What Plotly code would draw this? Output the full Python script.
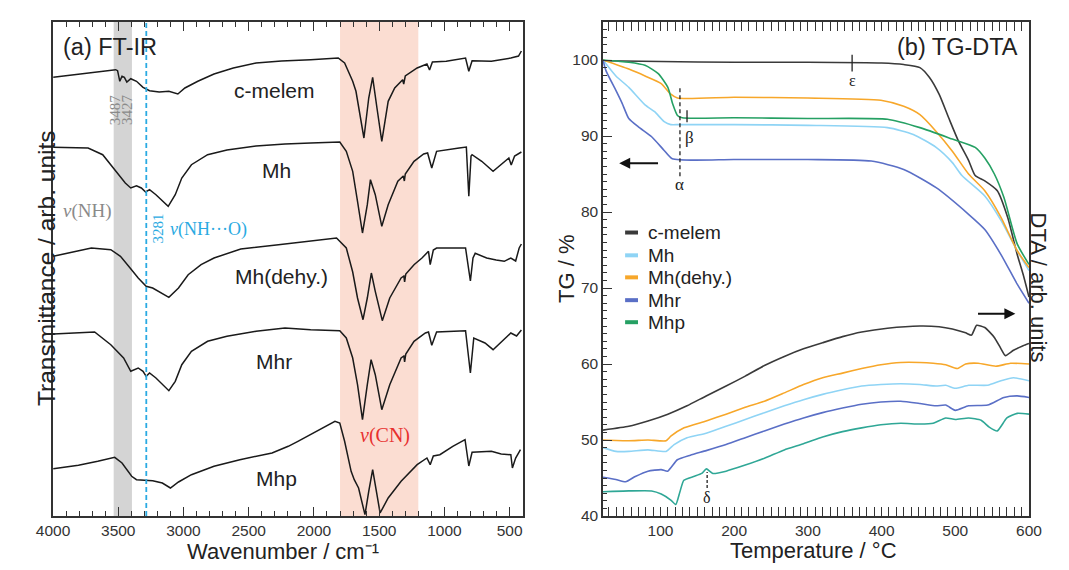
import plotly.graph_objects as go

# ---------------- FT-IR data (wavenumber / cm-1, transmittance arb. units) ----------------
wn_cmelem = [3998, 3520, 3505, 3488, 3471, 3453, 3434, 3404, 3360, 3310, 3260, 3186, 3112, 3043, 2989, 2890, 2766, 2618, 2444, 2249, 2025, 1814, 1765, 1703, 1678, 1617, 1580, 1550, 1517, 1480, 1431, 1381, 1320, 1312, 1300, 1209, 1134, 1114, 1092, 986, 838, 813, 788, 640, 491, 432, 410]
tr_cmelem = [438.7, 446.3, 445.3, 434.7, 439.7, 438.7, 434, 437.3, 434.7, 428.7, 425.3, 424, 424.7, 422, 428, 434.7, 442, 448, 453, 455, 456.3, 458, 453, 434.7, 424.7, 378, 418, 438.7, 408, 374.7, 414.7, 428, 436.3, 432, 440, 448, 452, 446, 454, 454.7, 458, 444.7, 455.3, 454.7, 458, 460, 465]

wn_mh = [3998, 3731, 3619, 3520, 3446, 3404, 3360, 3323, 3290, 3260, 3211, 3117, 3063, 3013, 2939, 2815, 2667, 2444, 2222, 2025, 1802, 1752, 1703, 1666, 1628, 1591, 1567, 1530, 1480, 1431, 1357, 1315, 1307, 1300, 1233, 1159, 1129, 1097, 1060, 887, 832, 813, 796, 788, 714, 627, 541, 506, 488, 462, 410]
tr_mh = [368.7, 368, 361.3, 344.7, 333, 328, 330.3, 328, 324, 326.3, 321.3, 309.7, 321.3, 338, 351.3, 361.3, 366, 370, 372, 373, 374, 364.7, 344.7, 314.7, 283, 311.3, 336.3, 321.3, 289.7, 311.3, 334.7, 340, 335, 342, 354.7, 362, 363, 348, 364.7, 368, 369, 319.7, 360, 361.3, 354.7, 344.7, 354.7, 358, 351, 360, 364]

wn_mhd = [3998, 3805, 3706, 3557, 3483, 3409, 3347, 3286, 3236, 3112, 3038, 2964, 2865, 2766, 2561, 2272, 2025, 1827, 1752, 1703, 1666, 1624, 1591, 1560, 1530, 1476, 1419, 1332, 1311, 1305, 1296, 1233, 1172, 1122, 1109, 1085, 1060, 838, 801, 781, 764, 676, 603, 541, 491, 454, 427, 410]
tr_mhd = [259.7, 264.7, 268, 266.3, 259.7, 248, 238, 229.7, 228, 218.7, 228, 241.3, 251.3, 258, 267, 271.3, 274.7, 278, 268, 244, 218, 196.3, 218, 243, 224.7, 195.3, 218, 238, 240, 234, 242, 251.3, 258, 264.7, 251.3, 266, 268, 268, 235, 258, 262.7, 258, 256, 254.7, 258, 255, 268, 272]

wn_mhr = [3998, 3681, 3557, 3459, 3404, 3347, 3310, 3286, 3260, 3211, 3112, 3063, 3013, 2939, 2815, 2667, 2444, 2222, 2025, 1802, 1752, 1703, 1666, 1628, 1591, 1562, 1530, 1480, 1419, 1332, 1311, 1305, 1296, 1233, 1146, 1122, 1097, 1060, 838, 801, 775, 689, 627, 541, 491, 447, 410]
tr_mhr = [182, 184, 171.3, 158, 144.7, 148, 144.7, 139.7, 143, 138, 125.3, 134.7, 151.3, 164.7, 174.7, 179.7, 184.7, 188, 186.3, 185.3, 178, 158, 131.3, 96.3, 131.3, 156.3, 141.3, 106.3, 131.3, 158, 160, 154, 162, 174.7, 183, 184, 170.7, 184, 185.3, 143, 178, 173, 166.3, 176.3, 183, 180, 186]

wn_mhp = [3998, 3805, 3657, 3527, 3471, 3421, 3397, 3360, 3236, 3162, 3100, 3038, 2939, 2766, 2568, 2321, 2197, 2123, 1975, 1839, 1802, 1765, 1715, 1691, 1658, 1609, 1580, 1550, 1517, 1493, 1431, 1332, 1209, 1134, 1109, 1085, 1035, 936, 842, 813, 788, 640, 565, 491, 479, 454, 417]
tr_mhp = [47.3, 50.7, 54.7, 58.7, 53, 44.7, 39.7, 36.3, 35.3, 33, 28, 34, 41.3, 49.7, 56.3, 63, 69.7, 74.7, 84.7, 94.7, 93, 74.7, 44.7, 36.3, 28, 1.3, 24.7, 46.3, 21.3, 3, 18, 34.7, 51.3, 58, 51.3, 60, 61.3, 69.7, 76.3, 50, 63.7, 64.7, 62, 61.3, 48, 58, 66.3]

ir_names = ["c-melem", "Mh", "Mh(dehy.)", "Mhr", "Mhp"]
ir_wn = [wn_cmelem, wn_mh, wn_mhd, wn_mhr, wn_mhp]
ir_tr = [tr_cmelem, tr_mh, tr_mhd, tr_mhr, tr_mhp]
ir_label_pos = [(2299, 426), (2290, 346), (2245, 240), (2310, 155), (2290, 38)]

# ---------------- TG data (temperature / degC, TG / %) ----------------
tg_T_cmelem = [22, 100, 200, 300, 400, 430, 452, 465, 478, 491, 504, 518, 527, 540, 557, 571, 584, 592, 600]
tg_cmelem = [99.9, 99.8, 99.7, 99.7, 99.6, 99.4, 99.0, 97.7, 95.5, 92.4, 89.4, 86.8, 84.8, 84.1, 82.8, 79.3, 74.4, 71.8, 68.8]
tg_T_mh = [22, 39.5, 57, 79, 92, 105, 114, 125, 200, 300, 408, 443, 474, 496, 509, 540, 562, 584, 600]
tg_mh = [100, 97.9, 96.4, 94.1, 93.2, 91.9, 91.5, 91.5, 91.5, 91.4, 91.1, 90.2, 88.5, 86.5, 84.8, 82.1, 78.9, 74.9, 72.3]
tg_T_mhd = [22, 57, 79, 101, 114, 123, 200, 300, 399, 430, 452, 474, 496, 518, 540, 562, 584, 600]
tg_mhd = [100, 98.8, 97.9, 96.9, 95.5, 95.0, 95.1, 95.0, 94.7, 93.9, 92.8, 90.6, 88.0, 85.0, 82.8, 79.3, 74.9, 72.7]
tg_T_mhr = [22, 26, 39.5, 48, 57, 70, 88, 105, 116, 200, 300, 386, 430, 474, 518, 540, 562, 584, 600]
tg_mhr = [100, 98.6, 96.0, 94.3, 92.3, 91.2, 89.9, 88.1, 87.0, 86.9, 86.9, 86.7, 85.6, 83.2, 79.7, 77.7, 74.4, 70.5, 68.0]
tg_T_mhp = [22, 57, 79, 97, 110, 116.6, 123, 129.5, 200, 300, 408, 452, 496, 527, 540, 553, 566, 584, 600]
tg_mhp = [100, 99.7, 99.3, 98.2, 96.4, 94.2, 92.7, 92.4, 92.4, 92.3, 92.2, 91.1, 89.6, 88.5, 87.1, 85.0, 81.9, 75.8, 73.1]

# ---------------- DTA data (temperature / degC, DTA arb. units) ----------------
dta_T_cmelem = [22, 57, 83, 110, 136, 162, 189, 215, 241, 268, 294, 320, 347, 373, 408, 452, 478, 496, 514, 522, 529, 540, 553, 562, 568, 579, 592, 600]
dta_cmelem = [51.3, 51.8, 52.5, 53.4, 54.5, 55.8, 57.1, 58.4, 59.8, 61.0, 62.0, 62.8, 63.6, 64.2, 64.7, 65.0, 64.9, 64.6, 64.1, 63.8, 65.1, 64.8, 63.5, 62.0, 61.1, 61.8, 62.4, 62.7]
dta_T_mhd = [22, 57, 83, 107.5, 114, 132, 162, 189, 215, 241, 268, 294, 320, 347, 373, 399, 426, 452, 470, 487, 502.5, 514, 531, 555, 575, 600]
dta_mhd = [50.0, 49.9, 50.0, 49.9, 50.5, 51.6, 52.5, 53.4, 54.3, 55.1, 56.2, 57.3, 58.2, 58.8, 59.4, 59.9, 60.2, 60.2, 60.1, 59.9, 59.4, 60.0, 60.1, 59.7, 60.1, 60.0]
dta_T_mh = [22, 39.5, 57, 83, 107.5, 118.5, 136, 162, 189, 215, 241, 268, 294, 320, 347, 373, 399, 426, 452, 474, 487, 500, 518, 544, 562, 579, 600]
dta_mh = [49.0, 48.5, 48.5, 48.7, 48.5, 49.4, 50.3, 50.9, 51.8, 52.7, 53.6, 54.5, 55.3, 56.0, 56.6, 57.1, 57.3, 57.4, 57.3, 57.1, 57.2, 56.8, 57.2, 57.2, 57.8, 58.2, 57.8]
dta_T_mhr = [22, 39.5, 52.7, 65.8, 83, 101, 109.7, 122.9, 140.5, 162, 189, 215, 241, 268, 294, 320, 347, 373, 399, 426, 452, 474, 487, 500, 518, 544, 566, 584, 600]
dta_mhr = [45.1, 44.8, 44.5, 45.2, 45.9, 46.1, 45.9, 47.4, 48.0, 48.6, 49.4, 50.3, 51.2, 52.1, 52.9, 53.6, 54.2, 54.7, 55.0, 55.1, 54.8, 54.5, 54.6, 53.9, 54.5, 54.6, 55.6, 55.8, 55.6]
dta_T_mhp = [22, 57, 88, 101, 114, 120.7, 126.4, 131.7, 145, 156, 162.3, 171, 189, 215, 241, 268, 294, 320, 347, 373, 399, 426, 452, 470, 487, 500, 518, 535, 546, 557, 570, 584, 600]
dta_mhp = [43.2, 43.3, 43.3, 42.9, 42.1, 41.5, 43.2, 44.7, 45.2, 45.6, 46.2, 45.6, 45.9, 46.7, 47.6, 48.7, 49.5, 50.4, 51.1, 51.6, 52.0, 52.2, 52.1, 52.2, 52.9, 52.7, 52.9, 52.6, 51.7, 51.2, 52.9, 53.5, 53.4]

tg_names = ["c-melem", "Mh", "Mh(dehy.)", "Mhr", "Mhp"]
tg_colors = ["#3a3a3a", "#8fd4f5", "#f7a72a", "#5a6fc6", "#25a063"]
dta_colors = ["#3a3a3a", "#8fd4f5", "#f7a72a", "#5a6fc6", "#2fa796"]
tg_T = [tg_T_cmelem, tg_T_mh, tg_T_mhd, tg_T_mhr, tg_T_mhp]
tg_v = [tg_cmelem, tg_mh, tg_mhd, tg_mhr, tg_mhp]
dta_T = [dta_T_cmelem, dta_T_mh, dta_T_mhd, dta_T_mhr, dta_T_mhp]
dta_v = [dta_cmelem, dta_mh, dta_mhd, dta_mhr, dta_mhp]

SANS = "Liberation Sans, Arial, sans-serif"
SERIF = "Liberation Serif, Times New Roman, serif"
AX = "#333333"

W, H = 1069, 570
ML, MR, MT, MB = 45, 48, 14, 62
PW = W - ML - MR
PH = H - MT - MB
def xp(px):
    return (px - ML) / PW
def yp(py):
    return (H - MB - py) / PH

fig = go.Figure()

for name, wn, tr in zip(ir_names, ir_wn, ir_tr):
    fig.add_trace(go.Scatter(x=wn, y=tr, mode="lines", name=name, showlegend=False,
                             line=dict(color="#1a1a1a", width=1.5), xaxis="x", yaxis="y"))

for name, T, v, c in zip(tg_names, tg_T, tg_v, tg_colors):
    fig.add_trace(go.Scatter(x=T, y=v, mode="lines", name=name, showlegend=False,
                             line=dict(color=c, width=1.6, shape="spline", smoothing=0.6),
                             xaxis="x2", yaxis="y2"))
for name, T, v, c in zip(tg_names, dta_T, dta_v, dta_colors):
    fig.add_trace(go.Scatter(x=T, y=v, mode="lines", name=name + " DTA", showlegend=False,
                             line=dict(color=c, width=1.6, shape="spline", smoothing=0.5),
                             xaxis="x2", yaxis="y3"))

shapes = []
shapes.append(dict(type="rect", xref="x", yref="y domain", x0=3535, x1=3395, y0=0, y1=1,
                   fillcolor="#d4d4d4", line=dict(width=0), layer="below"))
shapes.append(dict(type="rect", xref="x", yref="y domain", x0=1800, x1=1200, y0=0, y1=1,
                   fillcolor="#fbddd2", line=dict(width=0), layer="below"))
shapes.append(dict(type="line", xref="x", yref="y domain", x0=3285, x1=3285, y0=0, y1=1,
                   line=dict(color="#2aaae2", width=1.8, dash="5px,3px")))
shapes.append(dict(type="line", xref="x2", yref="y2", x0=360, x1=360, y0=98.5, y1=100.7,
                   line=dict(color="#222", width=1.3)))
shapes.append(dict(type="line", xref="x2", yref="y2", x0=126.4, x1=126.4, y0=84.7, y1=96.4,
                   line=dict(color="#222", width=1.3, dash="4px,3px")))
shapes.append(dict(type="line", xref="x2", yref="y2", x0=136, x1=136, y0=91.8, y1=93.4,
                   line=dict(color="#222", width=1.3)))
shapes.append(dict(type="line", xref="x2", yref="y2", x0=163.3, x1=163.3, y0=43.7, y1=45.8,
                   line=dict(color="#222", width=1.3, dash="3px,2px")))
legend_rows = [77.3, 74.3, 71.4, 68.4, 65.5]
for yv, c in zip(legend_rows, tg_colors):
    shapes.append(dict(type="line", xref="x2", yref="y2", x0=52, x1=69.5, y0=yv, y1=yv,
                       line=dict(color=c, width=4)))

ann = []
def A(**k):
    ann.append(k)

A(text="(a) FT-IR", x=3939, y=469, xref="x", yref="y", xanchor="left", yanchor="middle",
  showarrow=False, font=dict(family=SANS, size=23.5, color="#222"))
for name, (px_, py_) in zip(ir_names, ir_label_pos):
    A(text=name, x=px_, y=py_, xref="x", yref="y", showarrow=False,
      font=dict(family=SANS, size=21, color="#222"))
A(text="3487", x=3523, y=406, xref="x", yref="y", textangle=-90, showarrow=False,
  font=dict(family=SERIF, size=15, color="#8a8a8a"))
A(text="3427", x=3432, y=406, xref="x", yref="y", textangle=-90, showarrow=False,
  font=dict(family=SERIF, size=15, color="#8a8a8a"))
A(text="<i>ν</i>(NH)", x=3732, y=305, xref="x", yref="y", showarrow=False,
  font=dict(family=SERIF, size=19, color="#8a8a8a"))
A(text="3281", x=3199, y=287, xref="x", yref="y", textangle=-90, showarrow=False,
  font=dict(family=SERIF, size=15, color="#2aaae2"))
A(text="<i>ν</i>(NH···O)", x=3115, y=287, xref="x", yref="y", xanchor="left", showarrow=False,
  font=dict(family=SERIF, size=18, color="#2aaae2"))
A(text="<i>ν</i>(CN)", x=1452, y=81, xref="x", yref="y", showarrow=False,
  font=dict(family=SERIF, size=20, color="#e8302e"))

A(text="(b) TG-DTA", x=588, y=101.75, xref="x2", yref="y2", xanchor="right", yanchor="middle",
  showarrow=False, font=dict(family=SANS, size=23.5, color="#222"))
A(text="ε", x=360, y=97.3, xref="x2", yref="y2", showarrow=False,
  font=dict(family=SERIF, size=16, color="#222"))
A(text="α", x=126.4, y=83.6, xref="x2", yref="y2", showarrow=False,
  font=dict(family=SERIF, size=17, color="#222"))
A(text="β", x=139, y=89.8, xref="x2", yref="y2", showarrow=False,
  font=dict(family=SERIF, size=17, color="#222"))
A(text="δ", x=163.3, y=42.5, xref="x2", yref="y2", showarrow=False,
  font=dict(family=SERIF, size=16, color="#222"))
A(text="", x=44, y=86.4, ax=98.7, ay=86.4, xref="x2", yref="y2", axref="x2", ayref="y2",
  showarrow=True, arrowhead=2, arrowsize=1.1, arrowwidth=2, arrowcolor="#111")
A(text="", x=581.5, y=66.6, ax=528.8, ay=66.6, xref="x2", yref="y2", axref="x2", ayref="y2",
  showarrow=True, arrowhead=2, arrowsize=1.1, arrowwidth=2, arrowcolor="#111")
for name, yv in zip(tg_names, legend_rows):
    A(text=name, x=80.5, y=yv, xref="x2", yref="y2", xanchor="left", yanchor="middle",
      showarrow=False, font=dict(family=SANS, size=19, color="#222"))

A(text="Wavenumber / cm⁻¹", x=2237, y=yp(558), xref="x", yref="paper",
  showarrow=False, font=dict(family=SANS, size=22, color="#222"))
A(text="Transmittance / arb. units", x=xp(22.5), y=yp(260), xref="paper", yref="paper",
  textangle=-90, showarrow=False, font=dict(family=SANS, size=24.5, color="#222"))
A(text="Temperature / °C", x=307, y=yp(557), xref="x2", yref="paper", showarrow=False,
  font=dict(family=SANS, size=22, color="#222"))
A(text="TG / %", x=xp(558), y=yp(261), xref="paper", yref="paper", textangle=-90,
  showarrow=False, font=dict(family=SANS, size=22, color="#222"))
A(text="DTA / arb. units", x=xp(1045), y=yp(279), xref="paper", yref="paper", textangle=90,
  showarrow=False, font=dict(family=SANS, size=22, color="#222"))

tickfont = dict(family=SANS, size=15.5, color="#333")
common = dict(showline=True, linecolor=AX, linewidth=1.5, showgrid=False, zeroline=False,
              ticks="inside", tickcolor=AX, tickwidth=1.3, tickfont=tickfont)

fig.update_layout(
    width=W, height=H,
    margin=dict(l=ML, r=MR, t=MT, b=MB),
    paper_bgcolor="white", plot_bgcolor="white",
    shapes=shapes, annotations=ann, showlegend=False,
    xaxis=dict(domain=[0, xp(514.7)], range=[4000, 400], anchor="y", tick0=0, dtick=500,
               ticklen=9, mirror="allticks",
               minor=dict(dtick=100, ticklen=5, ticks="inside", tickcolor=AX, tickwidth=1.2),
               **common),
    yaxis=dict(domain=[0, 1], range=[0, 494], anchor="x", showline=True, linecolor=AX,
               linewidth=1.5, mirror=True, ticks="", showticklabels=False, showgrid=False,
               zeroline=False),
    xaxis2=dict(domain=[xp(595), 1], range=[22, 600], anchor="y2", tick0=0, dtick=100,
                ticklen=9, mirror="allticks",
                minor=dict(dtick=10, ticklen=5, ticks="inside", tickcolor=AX, tickwidth=1.2),
                **common),
    yaxis2=dict(domain=[0, 1], range=[40, 105], anchor="x2", tick0=0, dtick=10,
                ticklen=9, mirror=True,
                minor=dict(dtick=1, ticklen=4, ticks="inside", tickcolor=AX, tickwidth=1.1),
                **common),
    yaxis3=dict(range=[40, 105], overlaying="y2", anchor="x2", visible=False),
)

fig.write_html("out.html")
